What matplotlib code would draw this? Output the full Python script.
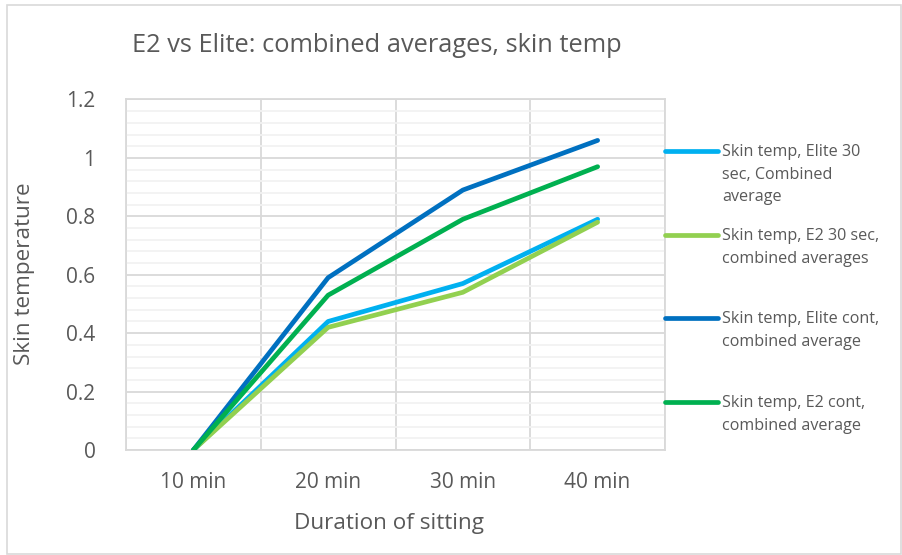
import matplotlib
matplotlib.use("Agg")
import matplotlib.pyplot as plt
from matplotlib.lines import Line2D
from matplotlib.patches import Rectangle
import numpy as np

categories = ["10 min", "20 min", "30 min", "40 min"]
elite_30 = [0, 0.44, 0.57, 0.79]
e2_30 = [0, 0.42, 0.54, 0.78]
elite_cont = [0, 0.59, 0.89, 1.06]
e2_cont = [0, 0.53, 0.79, 0.97]
series_labels = [
    "Skin temp, Elite 30\nsec, Combined\naverage",
    "Skin temp, E2 30 sec,\ncombined averages",
    "Skin temp, Elite cont,\ncombined average",
    "Skin temp, E2 cont,\ncombined average",
]
series = [elite_30, e2_30, elite_cont, e2_cont]
colors = ["#00B0F0", "#92D050", "#0070C0", "#00B050"]

plt.rcParams['font.family'] = ['Open Sans', 'DejaVu Sans']
TXT = "#595959"

W, H = 902, 555
fig = plt.figure(figsize=(W / 100, H / 100), dpi=100)
fig.patches.append(Rectangle((7 / W, 1 / H), (W - 8) / W, (H - 6) / H, transform=fig.transFigure,
                             fill=False, edgecolor="#D9D9D9", linewidth=1.2))

ax = fig.add_axes([126 / W, (H - 450) / H, (665 - 126) / W, (450 - 99.5) / H])
x = np.arange(len(categories))
for s, c in zip(series, colors):
    ax.plot(x, s, color=c, linewidth=3.4, solid_capstyle="round", solid_joinstyle="round", zorder=3)

ax.set_xlim(-0.5, len(categories) - 0.5)
ax.set_ylim(0, 1.2)
ax.set_yticks(np.arange(0, 1.21, 0.2))
ax.set_yticklabels(["0", "0.2", "0.4", "0.6", "0.8", "1", "1.2"])
ax.set_yticks(np.arange(0, 1.2001, 0.04), minor=True)
ax.set_xticks(x)
ax.set_xticklabels(categories)
ax.set_xticks(np.arange(-0.5, len(categories), 1.0), minor=True)

ax.grid(True, which="minor", axis="y", color="#F2F2F2", linewidth=1.3, zorder=0)
ax.grid(True, which="major", axis="y", color="#D9D9D9", linewidth=1.3, zorder=1)
ax.grid(True, which="minor", axis="x", color="#D9D9D9", linewidth=1.3, zorder=1)
ax.set_axisbelow(True)
for sp in ax.spines.values():
    sp.set_color("#D9D9D9")
    sp.set_linewidth(1.3)
ax.tick_params(which="both", length=0)
ax.tick_params(axis="y", labelsize=15, colors=TXT, pad=22)
ax.tick_params(axis="x", labelsize=15, colors=TXT, pad=16)

ax.set_xlabel("Duration of sitting", fontsize=16.2, color=TXT)
ax.xaxis.set_label_coords((389 - 126) / (665 - 126), -(523 - 450) / (450 - 99.5))
ax.xaxis.label.set_va("center")
ax.set_ylabel("Skin temperature", fontsize=16.2, color=TXT)
ax.yaxis.set_label_coords(-(126 - 25) / (665 - 126), 0.5 + (450 - 99.5 - 2 * (450 - 276)) / 2 / (450 - 99.5))
ax.yaxis.label.set_va("center")

fig.text(132 / W, 1 - 46 / H, "E2 vs Elite: combined averages, skin temp", fontsize=18.3,
         color=TXT, ha="left", va="center")

# legend
leg_y = [151, 235, 318, 402]
for yy, lab, c in zip(leg_y, series_labels, colors):
    fig.add_artist(Line2D([665 / W, 718 / W], [1 - yy / H, 1 - yy / H], transform=fig.transFigure,
                          color=c, linewidth=3.4, solid_capstyle="round"))
    fig.text(722 / W, 1 - (yy - 7) / H, lab, fontsize=11.6, color=TXT, ha="left", va="top",
             linespacing=1.55)

fig.savefig("out.png", dpi=100)
